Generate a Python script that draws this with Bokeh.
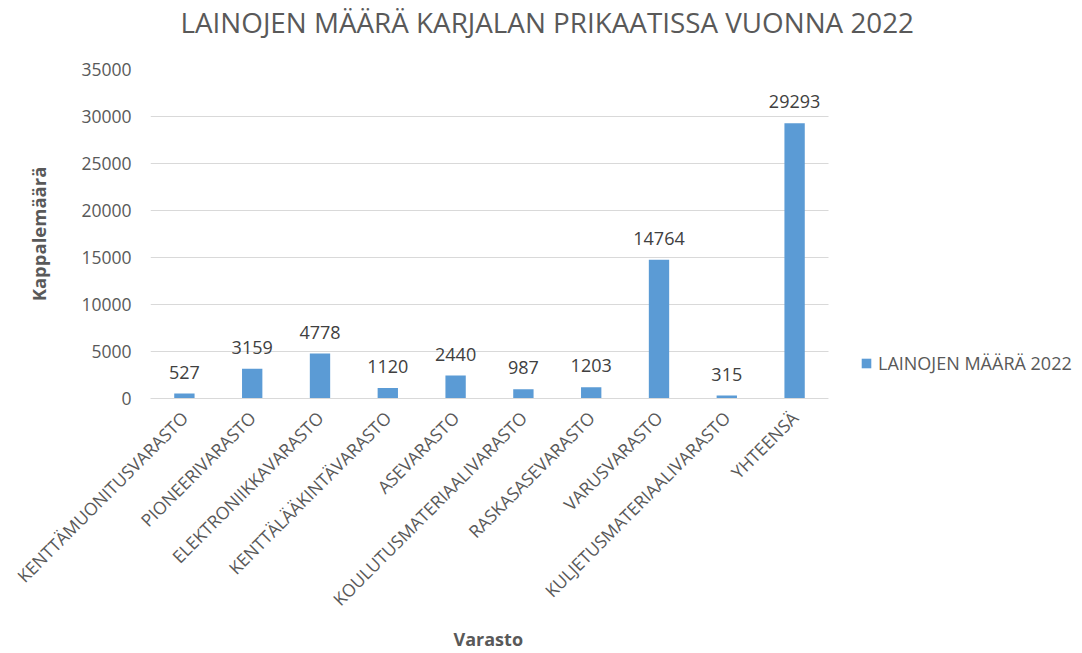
import math
from bokeh.plotting import figure
from bokeh.models import (ColumnDataSource, Range1d, Legend, LegendItem, SingleIntervalTicker,
                          NumeralTickFormatter, FixedTicker, BoxAnnotation, Title)
from bokeh.core.properties import value
from bokeh.embed import file_html
from bokeh.resources import INLINE

categories = ["KENTTÄMUONITUSVARASTO", "PIONEERIVARASTO", "ELEKTRONIIKKAVARASTO",
              "KENTTÄLÄÄKINTÄVARASTO", "ASEVARASTO", "KOULUTUSMATERIAALIVARASTO",
              "RASKASASEVARASTO", "VARUSVARASTO", "KULJETUSMATERIAALIVARASTO", "YHTEENSÄ"]
values = [527, 3159, 4778, 1120, 2440, 987, 1203, 14764, 315, 29293]
labels = [str(v) for v in values]
series_name = "LAINOJEN MÄÄRÄ 2022"
title_text = "LAINOJEN MÄÄRÄ KARJALAN PRIKAATISSA VUONNA 2022"
x_title = "Varasto"
y_title = "Kappalemäärä"

FONT = "Open Sans"
GRAY = "#595959"

n = len(categories)
x_pos = [i + 0.5 for i in range(n)]
src = ColumnDataSource(dict(x=x_pos, val=values, lab=labels))

W, H = 1080, 650
LEFT, TOP, BOTTOM = 150, 69, 252
plot_px = 678  # width of the category area in pixels
frame_px = W - LEFT

p = figure(width=W, height=H, output_backend="svg", toolbar_location=None,
           x_range=Range1d(0, n * frame_px / plot_px),
           y_range=Range1d(0, 35000),
           min_border_left=LEFT, min_border_right=0, min_border_top=TOP, min_border_bottom=BOTTOM)

# main title (outermost in the "above" panel)
p.title.text = title_text
p.title.align = "left"
p.title.offset = 30
p.title.standoff = 0
p.title.vertical_align = "middle"
p.title.text_font = FONT
p.title.text_font_style = "normal"
p.title.text_font_size = "27.8px"
p.title.text_color = GRAY
# spacer between title and plot area
p.add_layout(Title(text=" ", text_font_size="2px", standoff=24), "above")

p.outline_line_color = None
p.background_fill_color = "white"
p.border_fill_color = "white"

r = p.vbar(x="x", top="val", width=0.3, source=src, color="#5B9BD5", line_color=None)
p.text(x="x", y="val", text="lab", source=src, text_align="center", text_baseline="bottom",
       y_offset=-15, text_font=value(FONT), text_font_size="18px", text_color="#404040")

p.yaxis.ticker = SingleIntervalTicker(interval=5000)
p.yaxis.formatter = NumeralTickFormatter(format="0")
p.yaxis.axis_line_color = None
p.yaxis.major_tick_line_color = None
p.yaxis.minor_tick_line_color = None
p.yaxis.major_label_text_font = FONT
p.yaxis.major_label_text_font_size = "17.5px"
p.yaxis.major_label_text_color = GRAY
p.yaxis.major_label_standoff = 13
p.yaxis.axis_label = y_title
p.yaxis.axis_label_text_font = FONT
p.yaxis.axis_label_text_font_style = "bold"
p.yaxis.axis_label_text_font_size = "18.5px"
p.yaxis.axis_label_text_color = GRAY
p.yaxis.axis_label_standoff = 27

p.xaxis.ticker = FixedTicker(ticks=x_pos)
p.xaxis.major_label_overrides = {x: c for x, c in zip(x_pos, categories)}
p.xaxis.bounds = (0, n)
p.xaxis.axis_line_color = "#d9d9d9"
p.xaxis.major_tick_line_color = None
p.xaxis.minor_tick_line_color = None
p.xaxis.major_label_orientation = math.pi / 4
p.xaxis.major_label_text_font = FONT
p.xaxis.major_label_text_font_size = "17.5px"
p.xaxis.major_label_text_color = GRAY
p.xaxis.major_label_standoff = 10
# tiny blank axis label: only adds a little room under the tick labels
p.xaxis.axis_label = " "
p.xaxis.axis_label_text_font_size = "2px"
p.xaxis.axis_label_standoff = 2

# x axis title, placed under the category area
p.add_layout(Title(text=x_title, align="left", offset=303, standoff=-8, vertical_align="middle",
                   text_font=FONT, text_font_style="bold", text_font_size="18px",
                   text_color=GRAY), "below")

p.xgrid.grid_line_color = None
p.ygrid.grid_line_color = "#d9d9d9"

# blank the gridlines to the right of the category area (legend zone)
p.add_layout(BoxAnnotation(left=n, fill_color="white", fill_alpha=1, line_color=None))

legend = Legend(items=[LegendItem(label=series_name, renderers=[r])],
                location=(710, 23), orientation="vertical",
                border_line_color=None, background_fill_alpha=0,
                padding=0, margin=0, glyph_width=12, glyph_height=12,
                label_standoff=6, label_text_font=FONT, label_text_font_size="18px",
                label_text_color=GRAY)
p.add_layout(legend, "center")

open("out.html", "w").write(file_html(p, INLINE))
